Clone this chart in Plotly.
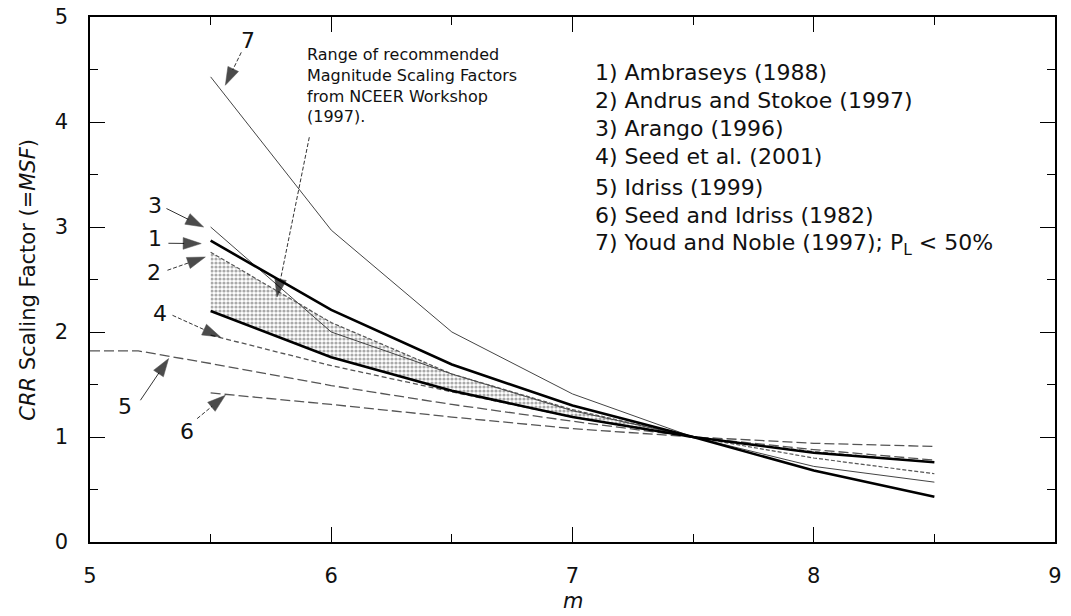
import plotly.graph_objects as go

# ---------------- data ----------------
m_std = [5.5, 6.0, 6.5, 7.0, 7.5, 8.0, 8.5]
ambraseys_1988 = [2.87, 2.21, 1.69, 1.30, 1.00, 0.68, 0.43]
andrus_stokoe_1997 = [2.76, 2.09, 1.60, 1.26, 1.00, 0.80, 0.65]
arango_1996 = [3.00, 2.00, 1.60, 1.25, 1.00, 0.72, 0.57]
seed_2001 = [1.97, 1.68, 1.43, 1.19, 1.00, 0.86, 0.76]
seed_idriss_1982 = [1.42, 1.31, 1.19, 1.08, 1.00, 0.94, 0.91]
nceer_lower = [2.20, 1.76, 1.44, 1.19, 1.00, 0.85, 0.76]

m_idriss = [5.0, 5.2, 5.5, 6.0, 6.5, 7.0, 7.5, 8.0, 8.5]
idriss_1999 = [1.82, 1.82, 1.70, 1.49, 1.31, 1.15, 1.00, 0.88, 0.78]

m_youd = [5.5, 6.0, 6.5, 7.0, 7.5]
youd_noble_1997 = [4.43, 2.97, 2.00, 1.41, 1.00]

m_range = [5.5, 6.0, 6.5, 7.0, 7.5]          # NCEER recommended range
legend_lines = [
    "1) Ambraseys (1988)",
    "2) Andrus and Stokoe (1997)",
    "3) Arango (1996)",
    "4) Seed et al. (2001)",
    "5) Idriss (1999)",
    "6) Seed and Idriss (1982)",
    "7) Youd and Noble (1997); P<sub>L</sub> &lt; 50%",
]
x_ticks = [5, 6, 7, 8, 9]
y_ticks = [0, 1, 2, 3, 4, 5]

FONT = "DejaVu Sans"

fig = go.Figure()

# shaded NCEER range (between Andrus & Stokoe and lower bound, M 5.5 - 7.5)
n = len(m_range)
upper = andrus_stokoe_1997[:n]
lower = nceer_lower[:n]
fig.add_trace(go.Scatter(
    x=m_range + m_range[::-1], y=upper + lower[::-1],
    fill="toself", mode="lines", line=dict(width=0, color="rgba(0,0,0,0)"),
    fillcolor="rgba(0,0,0,0)",
    fillpattern=dict(shape=".", size=4, solidity=0.5, fgcolor="#555", bgcolor="white"),
    hoverinfo="skip", showlegend=False))

dash_short = "5px,3px"
dash_long = "10px,4px"

series = [
    (m_std, seed_idriss_1982, dict(color="#555", width=1.3, dash=dash_long)),
    (m_idriss, idriss_1999, dict(color="#555", width=1.3, dash=dash_long)),
    (m_std, seed_2001, dict(color="#555", width=1.3, dash=dash_short)),
    (m_std, arango_1996, dict(color="#444", width=1.0)),
    (m_std, andrus_stokoe_1997, dict(color="#555", width=1.2, dash="4px,2px")),
    (m_youd, youd_noble_1997, dict(color="#444", width=1.0)),
    (m_std, nceer_lower, dict(color="black", width=2.6)),
    (m_std, ambraseys_1988, dict(color="black", width=2.6)),
]
for xs, ys, ln in series:
    fig.add_trace(go.Scatter(x=xs, y=ys, mode="lines", line=ln,
                             hoverinfo="skip", showlegend=False))

# ---------------- callouts (label, label pos, tail, tip, dashed?) ----------------
callouts = [
    ("7", (5.656, 4.78), (5.627, 4.663), (5.561, 4.35), True),
    ("3", (5.271, 3.205), (5.317, 3.176), (5.471, 3.00), False),
    ("1", (5.271, 2.889), (5.325, 2.845), (5.461, 2.842), False),
    ("2", (5.264, 2.571), (5.321, 2.588), (5.478, 2.714), True),
    ("4", (5.292, 2.175), (5.342, 2.159), (5.541, 1.952), True),
    ("5", (5.147, 1.286), (5.209, 1.350), (5.326, 1.747), False),
    ("6", (5.403, 1.048), (5.444, 1.175), (5.561, 1.397), True),
    ("", None, (5.909, 3.855), (5.775, 2.333), True),
]
for lab, lpos, tail, tip, dashed in callouts:
    fig.add_trace(go.Scatter(
        x=[tail[0], tip[0]], y=[tail[1], tip[1]], mode="lines+markers",
        line=dict(color="#333", width=1, dash="4px,2px" if dashed else "solid"),
        marker=dict(symbol="arrow", size=[0, 19], color="black",
                    angleref="previous", line=dict(width=0.5, color="black")),
        hoverinfo="skip", showlegend=False))
    if lab:
        fig.add_annotation(x=lpos[0], y=lpos[1], xref="x", yref="y", text=lab,
                           showarrow=False, font=dict(family=FONT, size=22, color="#111"))

# NCEER text block
fig.add_annotation(x=5.893, y=4.75, xref="x", yref="y", xanchor="left", yanchor="top",
                   align="left", showarrow=False,
                   text="Range of recommended<br>Magnitude Scaling Factors<br>from NCEER Workshop<br>(1997).",
                   font=dict(family=FONT, size=16, color="#111"))

# legend text block
legend_y = [4.476, 4.207, 3.937, 3.667, 3.381, 3.111, 2.835]
for txt, yy in zip(legend_lines, legend_y):
    fig.add_annotation(x=7.086, y=yy, xref="x", yref="y", xanchor="left", yanchor="middle",
                       showarrow=False, text=txt,
                       font=dict(family=FONT, size=22, color="#111"))

# axis titles
fig.add_annotation(xref="paper", yref="paper", x=-0.065, y=0.5, textangle=-90,
                   xanchor="center", yanchor="middle",
                   text="<i>CRR</i> Scaling Factor (=<i>MSF</i>)", showarrow=False,
                   font=dict(family=FONT, size=21, color="#111"))
fig.add_annotation(xref="paper", yref="paper", x=0.5, y=-0.112,
                   xanchor="center", yanchor="middle",
                   text="<i>m</i>", showarrow=False,
                   font=dict(family=FONT, size=21, color="#111"))

axis_common = dict(
    showline=True, linecolor="black", linewidth=1.6, mirror="ticks",
    ticks="inside", ticklen=15, tickwidth=1.4, tickcolor="black",
    showgrid=False, zeroline=False, automargin=False,
    minor=dict(ticks="inside", ticklen=8, tickwidth=1.2, tickcolor="black", dtick=0.5, showgrid=False),
    tickfont=dict(family=FONT, size=21, color="#111"),
)
fig.update_xaxes(range=[5, 9], tickvals=x_ticks, ticklabelstandoff=14, **axis_common)
fig.update_yaxes(range=[0, 5], tickvals=y_ticks, ticklabelstandoff=16, **axis_common)

fig.update_layout(
    width=1071, height=616,
    margin=dict(l=90, r=16, t=17, b=74, autoexpand=False),
    paper_bgcolor="white", plot_bgcolor="white",
    showlegend=False,
)

fig.write_html("out.html", config={"displayModeBar": False},
               post_script="document.body.style.margin='0';document.body.style.overflow='hidden';")
